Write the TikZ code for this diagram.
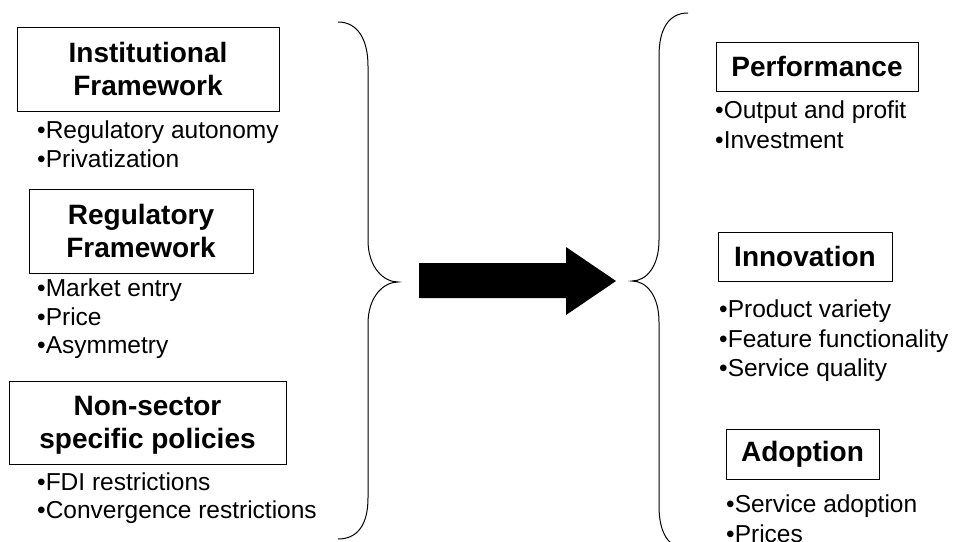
\documentclass[tikz,border=0pt]{standalone}
\usepackage{fontspec}
\setmainfont{Liberation Sans}
\tikzset{
  headbox/.style={draw, line width=0.9pt, align=center, inner sep=0pt,
    font=\fontsize{28}{33}\selectfont\bfseries},
  item/.style={anchor=base west, inner sep=0pt, font=\fontsize{24.5}{29}\selectfont},
  brace/.style={line width=1pt},
}
\begin{document}
\begin{tikzpicture}[x=1pt,y=-1pt]
  \useasboundingbox (0,0) rectangle (956,541);
  \clip (0,0) rectangle (956,541);
  % left column: the three frameworks
  \node[headbox, minimum width=262, minimum height=84] (inst) at (148,69) {Institutional\\Framework};
  \foreach \y/\t [count=\i] in {138/Regulatory autonomy, 167/Privatization}
    \node[item] (inst\i) at (37,\y) {•\t};
  \node[headbox, minimum width=224, minimum height=84] (reg) at (141,231) {Regulatory\\Framework};
  \foreach \y/\t [count=\i] in {296/Market entry, 325/Price, 353/Asymmetry}
    \node[item] (reg\i) at (37,\y) {•\t};
  \node[headbox, minimum width=277, minimum height=83] (nsp) at (147.5,422.5) {\rule{0pt}{24pt}Non-sector\\specific policies};
  \foreach \y/\t [count=\i] in {490/FDI restrictions, 518/Convergence restrictions}
    \node[item] (nsp\i) at (37,\y) {•\t};
  % braces and the big arrow
  \draw[brace] (338,22) .. controls (358,22) and (368,40) .. (368,66) -- (368,240)
    .. controls (368,268) and (384,282) .. (398,282)
    .. controls (384,282) and (368,296) .. (368,324) -- (368,498)
    .. controls (368,524) and (358,539) .. (338,539);
  \fill (419,263) -- (566,263) -- (566,247) -- (616,281) -- (566,315) -- (566,298) -- (419,298) -- cycle;
  \draw[brace] (688,13) .. controls (668,13) and (659,30) .. (659,56) -- (659,240)
    .. controls (659,267) and (646,281) .. (632,281)
    .. controls (646,281) and (659,295) .. (659,322) -- (659,506)
    .. controls (659,532) and (668,549) .. (688,549);
  % right column: the outcomes
  \node[headbox, minimum width=202, minimum height=49] (perf) at (817,66.5) {Performance};
  \foreach \y/\t [count=\i] in {118/Output and profit, 148/Investment}
    \node[item] (perf\i) at (715,\y) {•\t};
  \node[headbox, minimum width=174, minimum height=49] (innov) at (805,256.5) {Innovation};
  \foreach \y/\t [count=\i] in {317/Product variety, 347/Feature functionality, 376/Service quality}
    \node[item] (innov\i) at (719,\y) {•\t};
  \node[headbox, minimum width=153, minimum height=50] (adopt) at (802.5,454) {Adoption};
  \foreach \y/\t [count=\i] in {512/Service adoption, 542/Prices}
    \node[item] (adopt\i) at (726,\y) {•\t};
\end{tikzpicture}
\end{document}
